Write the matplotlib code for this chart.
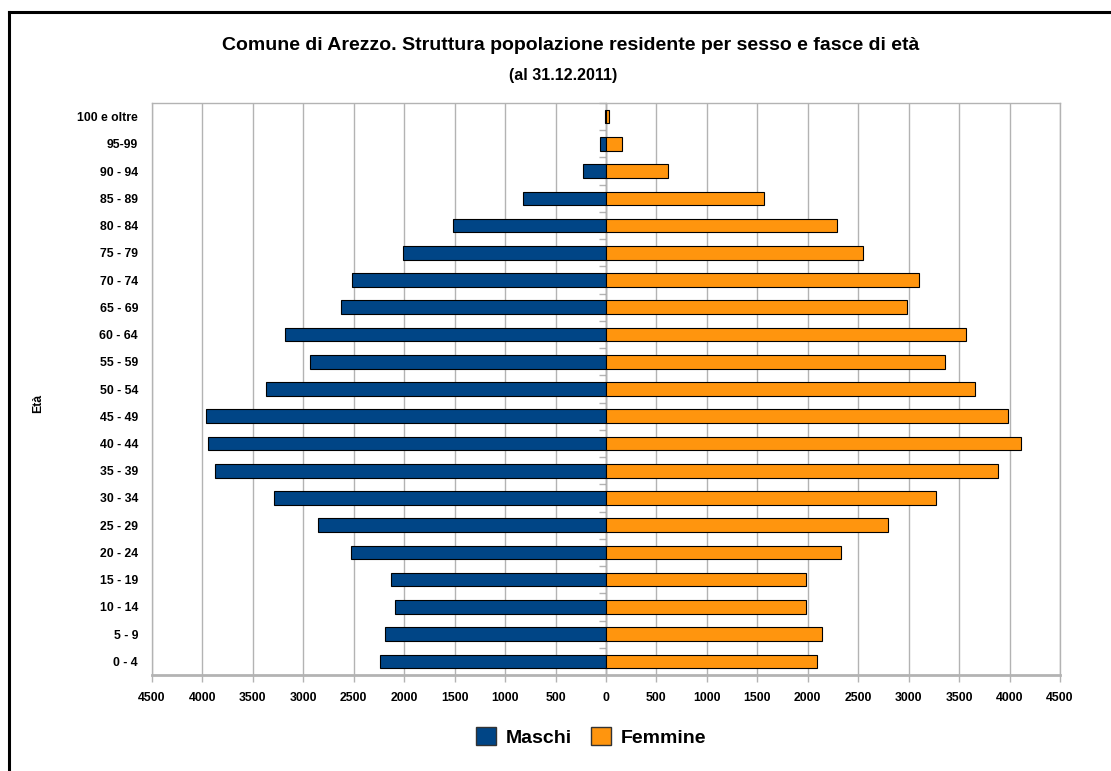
import matplotlib
matplotlib.use("Agg")
import matplotlib.pyplot as plt
from matplotlib.ticker import FuncFormatter
from matplotlib.patches import Patch
from matplotlib.lines import Line2D
import numpy as np

plt.rcParams['font.family'] = ['Liberation Sans', 'DejaVu Sans']

# Age classes, youngest first
fasce = ["0 - 4", "5 - 9", "10 - 14", "15 - 19", "20 - 24", "25 - 29", "30 - 34",
         "35 - 39", "40 - 44", "45 - 49", "50 - 54", "55 - 59", "60 - 64", "65 - 69",
         "70 - 74", "75 - 79", "80 - 84", "85 - 89", "90 - 94", "95-99", "100 e oltre"]
maschi = [2239, 2188, 2093, 2129, 2529, 2855, 3291, 3873, 3943, 3967, 3374,
          2930, 3185, 2624, 2518, 2011, 1512, 821, 232, 60, 6]
femmine = [2093, 2139, 1983, 1983, 2331, 2793, 3267, 3884, 4116, 3983, 3655,
           3363, 3569, 2988, 3107, 2550, 2286, 1569, 614, 160, 30]
x_ticks = list(range(-4500, 4501, 500))

COL_M = "#004586"
COL_F = "#ff950e"
GRID = "#b3b3b3"

fig = plt.figure(figsize=(11.11, 7.71), dpi=100)
ax = fig.add_axes([0.1368, 0.1245, 0.8173, 0.7419])

y = np.arange(len(fasce))
ax.barh(y, -np.array(maschi), height=0.5, color=COL_M, edgecolor="black",
        linewidth=0.8, zorder=3, label="Maschi")
ax.barh(y, femmine, height=0.5, color=COL_F, edgecolor="black",
        linewidth=0.8, zorder=3, label="Femmine")

ax.set_xlim(-4500, 4500)
ax.set_ylim(-0.5, len(fasce) - 0.5)
ax.set_xticks(x_ticks)
ax.xaxis.set_major_formatter(FuncFormatter(lambda v, p: f"{abs(int(v))}"))
ax.grid(axis="x", color=GRID, linewidth=1.0, zorder=0)
ax.set_axisbelow(True)

ax.set_yticks(y)
ax.set_yticklabels(fasce)
ax.tick_params(axis="y", length=0, pad=10, labelsize=8.8)
ax.tick_params(axis="x", length=5, color=GRID, width=1.0, pad=7, labelsize=8.8)
for lab in ax.get_xticklabels() + ax.get_yticklabels():
    lab.set_fontweight("bold")

for side, sp in ax.spines.items():
    sp.set_color(GRID)
    sp.set_linewidth(1.0)
ax.spines["bottom"].set_linewidth(2.0)

# central axis with class-boundary ticks
ax.axvline(0, color=GRID, linewidth=1.0, zorder=2)
sec = ax.secondary_yaxis(0.5)
sec.set_yticks(np.arange(len(fasce) + 1) - 0.5)
sec.set_yticklabels([])
sec.tick_params(axis="y", length=5, color=GRID, width=1.0, direction="in")
sec.spines["left"].set_color(GRID)

ax.set_ylabel("Età", fontsize=8.8, fontweight="bold")
ax.yaxis.set_label_coords(-0.119, 0.4755)

fig.text(0.514, 0.941, "Comune di Arezzo. Struttura popolazione residente per sesso e fasce di età",
         ha="center", va="center", fontsize=14, fontweight="bold")
fig.text(0.507, 0.902, "(al 31.12.2011)", ha="center", va="center",
         fontsize=11.5, fontweight="bold")

handles = [Patch(facecolor=COL_M, edgecolor="#333333", label="Maschi"),
           Patch(facecolor=COL_F, edgecolor="#333333", label="Femmine")]
fig.legend(handles=handles, loc="center", bbox_to_anchor=(0.532, 0.044),
           ncol=2, frameon=False, prop={"size": 14, "weight": "bold"},
           handlelength=1.0, handleheight=1.0, handletextpad=0.5, columnspacing=1.0)

# frame lines along the top and left edge
fig.add_artist(Line2D([0.0078, 1.0], [0.9845, 0.9845], color="black", linewidth=2.2,
                      transform=fig.transFigure))
fig.add_artist(Line2D([0.0078, 0.0078], [0.0, 0.9845], color="black", linewidth=2.2,
                      transform=fig.transFigure))

fig.savefig("out.png", dpi=100, facecolor="white")
